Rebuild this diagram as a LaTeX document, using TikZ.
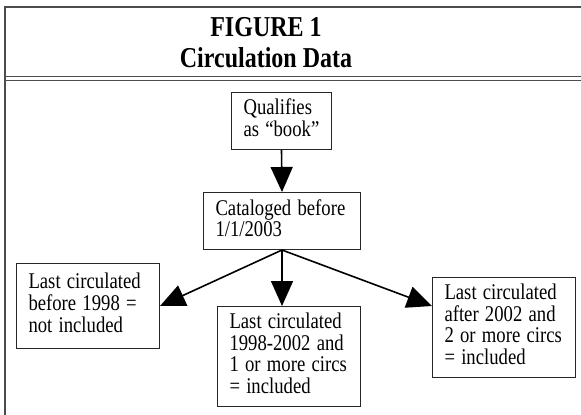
\documentclass[tikz,border=0pt]{standalone}
\usepackage{fontspec}
\setmainfont{Liberation Serif}
\usetikzlibrary{arrows.meta}
\newcommand{\tallstack}[1]{\scalebox{1}[1.2]{\begin{tabular}{@{}l@{}}#1\end{tabular}}}
\newcommand{\talltext}[1]{\scalebox{1}[1.2]{#1}}
\begin{document}
\begin{tikzpicture}[x=1pt,y=-1pt,
  box/.style={draw=black!85, line width=1pt, anchor=north west, inner xsep=12pt, inner ysep=0pt,
    align=left, font=\fontsize{18.7}{17.5}\selectfont},
  flow/.style={draw, line width=1.6pt, -{Triangle[length=25pt,width=22pt]}},
  framethick/.style={draw=black!70, line width=1.8pt},
  framethin/.style={draw=black!70, line width=1pt},
  title/.style={anchor=base, inner sep=0pt, font=\bfseries\fontsize{24}{26}\selectfont}]
\useasboundingbox (0,0) rectangle (581,415);
% frame
\draw[framethick] (5,415) -- (5,7) -- (581,7);
\draw[framethin] (5,76.5) -- (581,76.5);
\draw[framethin] (5,80.5) -- (581,80.5);
% title
\node[title] (t1) at (266,36) {\talltext{FIGURE 1}};
\node[title] (t2) at (266,67) {\talltext{Circulation Data}};
% boxes
\node[box, minimum width=100, minimum height=57, text width=76] (q) at (231,92) {\tallstack{Qualifies\\as “book”}};
\node[box, minimum width=157, minimum height=57, text width=133] (c) at (203,192) {\tallstack{Cataloged before\\1/1/2003}};
\node[box, minimum width=143, minimum height=85, text width=119] (l) at (16,263) {\tallstack{Last circulated\\before 1998 =\\not included}};
\node[box, minimum width=143, minimum height=100, text width=119] (m) at (217,306) {\tallstack{Last circulated\\1998-2002 and\\1 or more circs\\= included}};
\node[box, minimum width=143, minimum height=100, text width=119] (r) at (432,277) {\tallstack{Last circulated\\after 2002 and\\2 or more circs\\= included}};
% arrows
\draw[flow] (q.south) -- (c.north);
\draw[flow] (c.south) -- (l.east);
\draw[flow] (c.south) -- (c.south |- m.north);
\draw[flow] (c.south) -- (r.west |- l.east);
\end{tikzpicture}
\end{document}
